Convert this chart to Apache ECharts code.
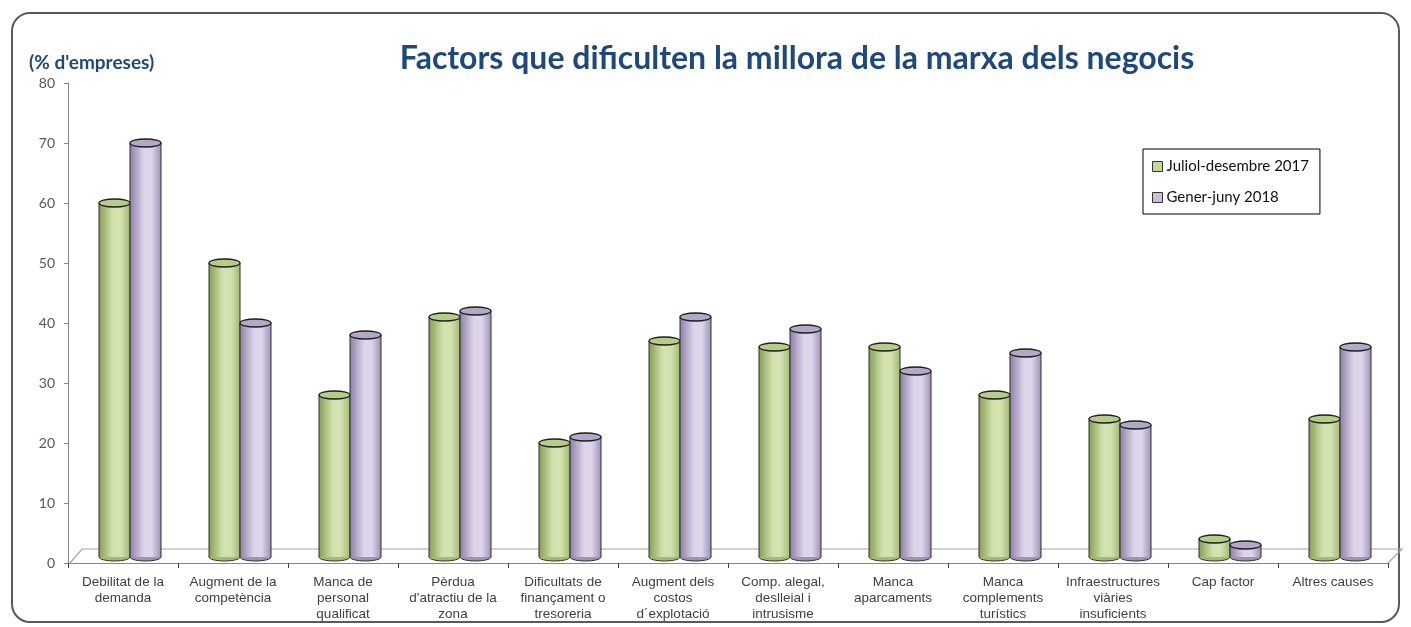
<!DOCTYPE html>
<html>
<head>
<meta charset="utf-8">
<script src="https://cdn.jsdelivr.net/npm/echarts@6/dist/echarts.min.js"></script>
<style>
  html, body { margin: 0; padding: 0; background: #fff; }
  #chart { width: 1411px; height: 627px; }
</style>
</head>
<body>
<div id="chart"></div>
<script>
// categories (x axis)
var categories = [
    'Debilitat de la\ndemanda',
    'Augment de la\ncompetència',
    'Manca de\npersonal\nqualificat',
    'Pèrdua\nd\'atractiu de la\nzona',
    'Dificultats de\nfinançament o\ntresoreria',
    'Augment dels\ncostos\nd´explotació',
    'Comp. alegal,\ndeslleial i\nintrusisme',
    'Manca\naparcaments',
    'Manca\ncomplements\nturístics',
    'Infraestructures\nviàries\ninsuficients',
    'Cap factor',
    'Altres causes'
]
// % d'empreses
var seriesNames = ['Juliol-desembre 2017', 'Gener-juny 2018']
var values2017 = [60, 50, 28, 41, 20, 37, 36, 36, 28, 24, 4, 24]
var values2018 = [70, 40, 38, 42, 21, 41, 39, 32, 35, 23, 3, 36]
var yTicks = [0, 10, 20, 30, 40, 50, 60, 70, 80]

var FONT = 'Lato, "Open Sans", sans-serif'
var BAR_W = 31
var SHIFT = 7      // desplaçament 3D dels cilindres cap a la dreta
var LIFT = 6       // els cilindres reposen a mig terra
var CAP_H = 8

var palette = {
    green: {dark: '#869f55', light: '#d3e3af', edge: '#a3bb74', cap: '#b7cc89'},
    purple: {dark: '#8e80a6', light: '#ded5eb', edge: '#9f92b5', cap: '#b4a8c7'}
}

function cylGrad(c) {
    return new echarts.graphic.LinearGradient(0, 0, 1, 0, [
        {offset: 0, color: c.dark},
        {offset: 0.45, color: c.light},
        {offset: 0.7, color: c.light},
        {offset: 1, color: c.edge}
    ])
}

// cilindre dibuixat amb les escales de l'eix
function cylinderSeries(name, data, c, side) {
    return {
        name: name,
        type: 'custom',
        data: data.map(function (v, i) { return [i, v] }),
        encode: {x: 0, y: 1},
        z: 2,
        renderItem: function (params, api) {
            var idx = api.value(0)
            var top = api.coord([idx, api.value(1)])
            var base = api.coord([idx, 0])
            var x = top[0] + SHIFT + (side === 0 ? -BAR_W : 0)
            var yTop = top[1]
            var yBot = base[1] - LIFT
            var body = {
                type: 'rect',
                shape: {x: x, y: yTop, width: BAR_W, height: Math.max(0, yBot - yTop)},
                style: {fill: cylGrad(c), stroke: null}
            }
            var sideL = {
                type: 'polyline',
                shape: {points: [[x, yTop], [x, yBot]]},
                style: {stroke: '#2e2e2e', lineWidth: 1, fill: null}
            }
            var sideR = {
                type: 'polyline',
                shape: {points: [[x + BAR_W, yTop], [x + BAR_W, yBot]]},
                style: {stroke: '#2e2e2e', lineWidth: 1, fill: null}
            }
            var bottom = {
                type: 'ellipse',
                shape: {cx: x + BAR_W / 2, cy: yBot, rx: BAR_W / 2, ry: CAP_H / 2},
                style: {fill: c.edge, stroke: '#2e2e2e', lineWidth: 1}
            }
            var cap = {
                type: 'ellipse',
                shape: {cx: x + BAR_W / 2, cy: yTop, rx: BAR_W / 2, ry: CAP_H / 2},
                style: {fill: c.cap, stroke: '#1e1e1e', lineWidth: 1.3}
            }
            return {type: 'group', children: [bottom, body, sideL, sideR, cap]}
        }
    }
}

var myChart = echarts.init(document.getElementById('chart'))

var option = {
    backgroundColor: '#fff',
    animation: false,
    title: [{
        text: 'Factors que dificulten la millora de la marxa dels negocis',
        left: 792,
        textAlign: 'center',
        top: 38,
        textStyle: {fontFamily: FONT, fontSize: 32, fontWeight: 'bold', color: '#1f497d'}
    }, {
        text: "(% d'empreses)",
        left: 24,
        top: 48,
        textStyle: {fontFamily: FONT, fontSize: 19, fontWeight: 'bold', color: '#1f497d'}
    }],
    legend: {
        data: [
            {name: seriesNames[0], itemStyle: {color: '#c4d79b', borderColor: '#333', borderWidth: 1}},
            {name: seriesNames[1], itemStyle: {color: '#ccc0da', borderColor: '#333', borderWidth: 1}}
        ],
        orient: 'vertical',
        left: 1143,
        top: 149,
        padding: [10, 11, 9, 9],
        itemGap: 16,
        itemWidth: 10,
        itemHeight: 10,
        icon: 'rect',
        borderColor: '#000',
        borderWidth: 1,
        textStyle: {fontFamily: FONT, fontSize: 15, color: '#111', padding: [0, 0, 0, -1]}
    },
    grid: {left: 68, right: 23, top: 83, bottom: 64},
    xAxis: {
        type: 'category',
        data: categories,
        axisLine: {lineStyle: {color: '#868686', width: 1}},
        axisTick: {show: true, length: 5, lineStyle: {color: '#404040'}},
        axisLabel: {
            interval: 0, margin: 11, fontFamily: 'Liberation Sans, Arial, sans-serif',
            fontSize: 13.5, lineHeight: 16, color: '#404040'
        }
    },
    yAxis: {
        type: 'value',
        min: yTicks[0],
        max: yTicks[yTicks.length - 1],
        interval: 10,
        axisLine: {show: true, lineStyle: {color: '#868686'}},
        axisTick: {show: true, length: 4, lineStyle: {color: '#868686'}},
        axisLabel: {fontFamily: FONT, fontSize: 14, color: '#595959', margin: 13},
        splitLine: {show: false}
    },
    series: [
        cylinderSeries(seriesNames[0], values2017, palette.green, 0),
        cylinderSeries(seriesNames[1], values2018, palette.purple, 1)
    ]
}
myChart.setOption(option)

// marc arrodonit i terra en perspectiva
function drawDecor() {
    var xl = option.grid.left
    var xr = 1411 - option.grid.right
    var y0 = myChart.convertToPixel({yAxisIndex: 0}, 0)
    var d = 14
    myChart.setOption({
        graphic: [{
            type: 'rect',
            shape: {x: 12, y: 13, width: 1387, height: 609, r: 18},
            style: {fill: 'none', stroke: '#5a5a5a', lineWidth: 2},
            silent: true, z: -1
        }, {
            type: 'polyline',
            shape: {points: [[xl + 2, y0], [xl + d, y0 - d], [xr + d, y0 - d], [xr, y0]]},
            style: {fill: 'none', stroke: '#a6a6a6', lineWidth: 1.2},
            silent: true, z: 0
        }]
    })
}
drawDecor()
</script>
</body>
</html>
